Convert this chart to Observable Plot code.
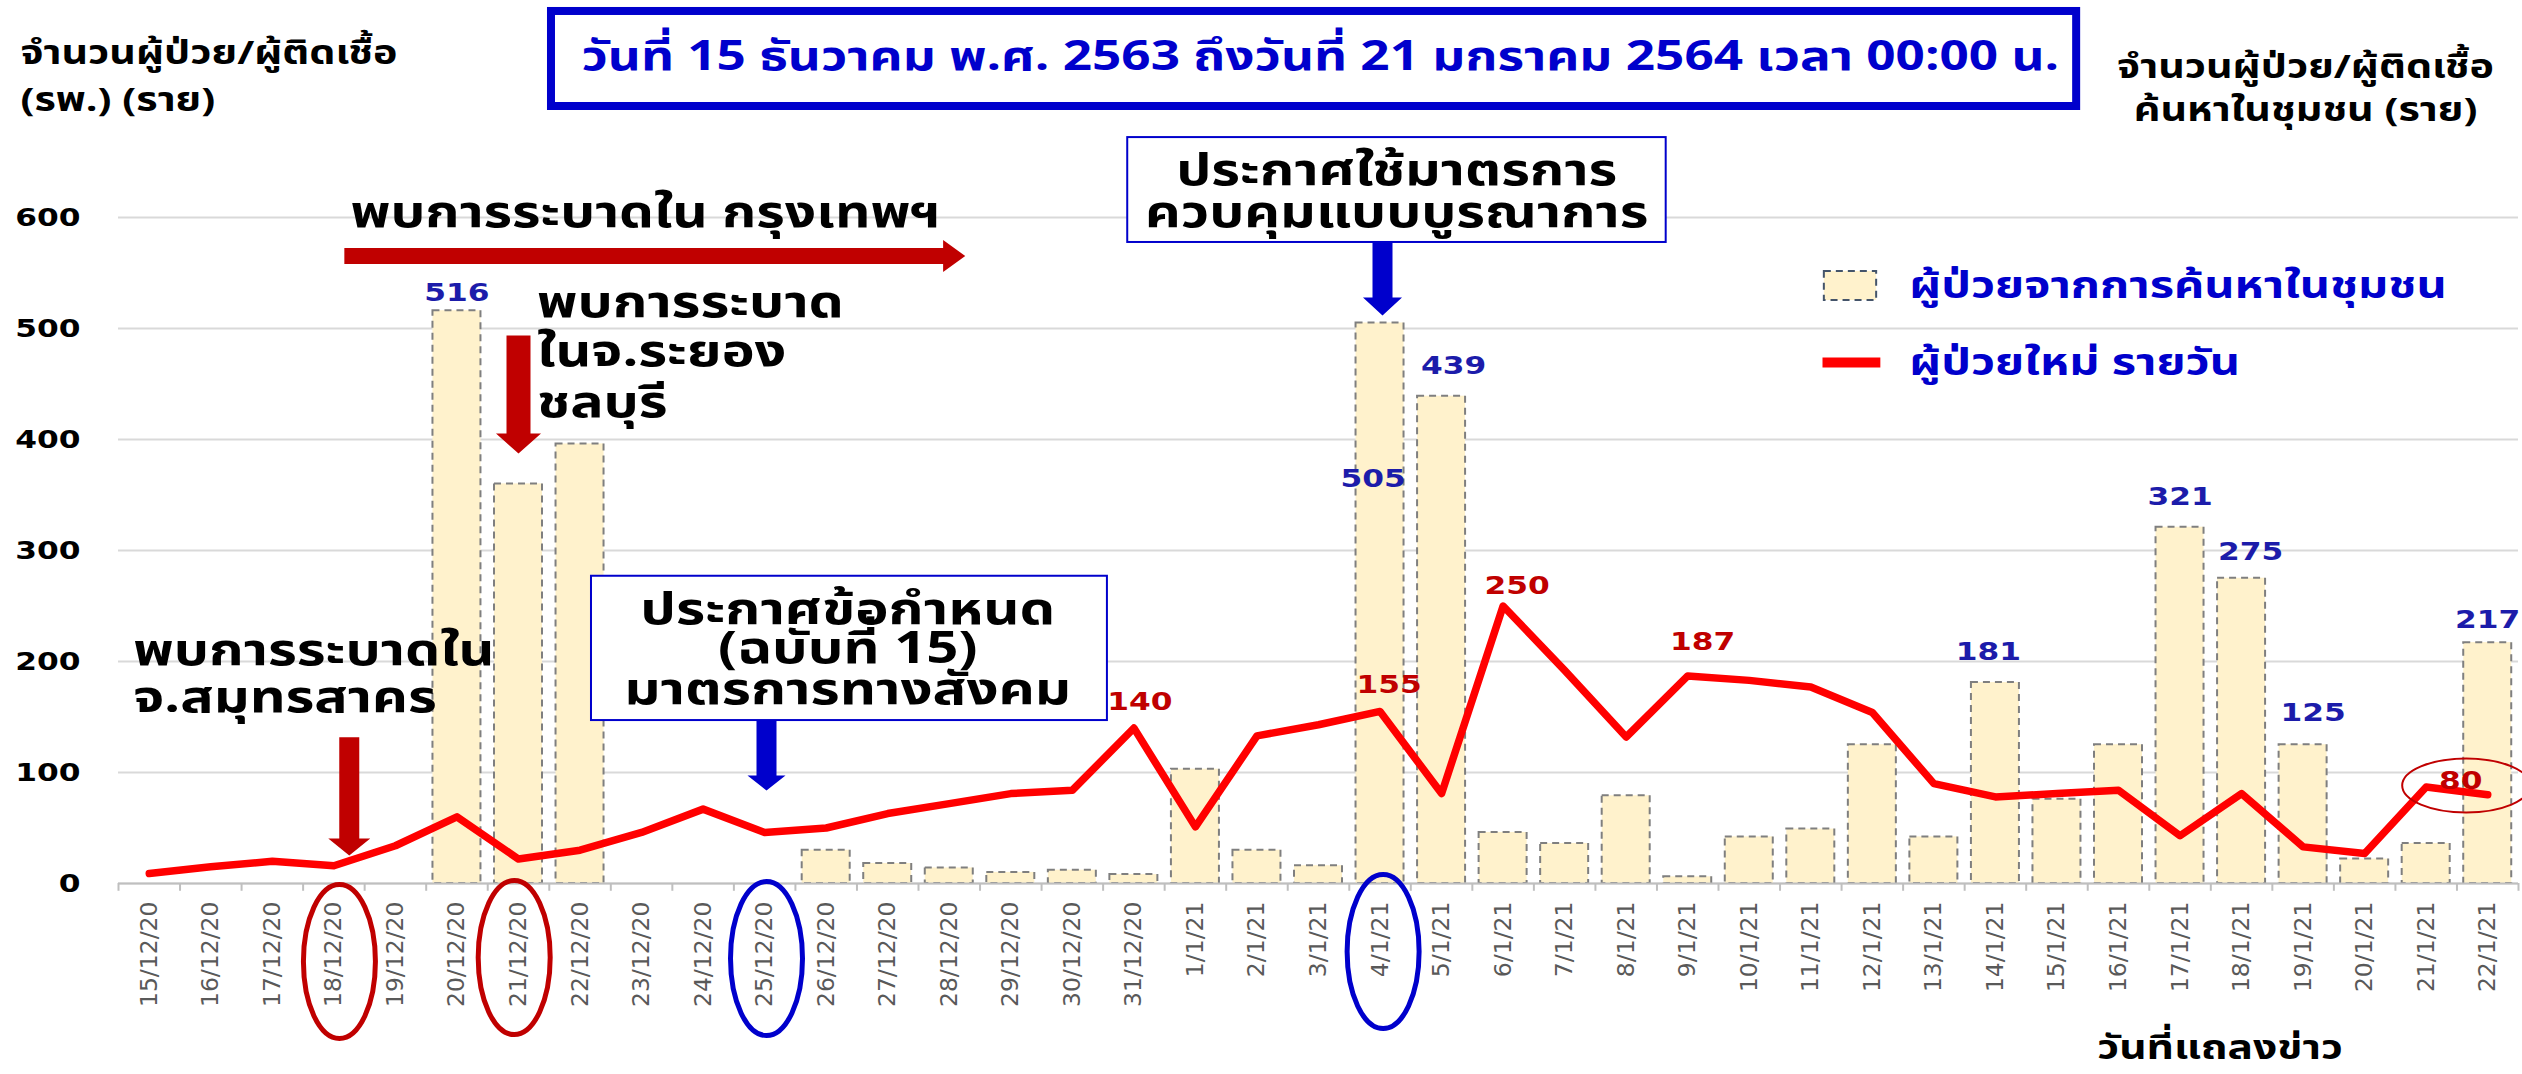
<!DOCTYPE html>
<html lang="th">
<head>
<meta charset="utf-8">
<script src="https://cdn.jsdelivr.net/npm/d3@7"></script>
<script src="https://cdn.jsdelivr.net/npm/@observablehq/plot@0.6"></script>
<style>
  html,body{margin:0;padding:0;background:#fff;}
  #chart{position:relative;width:2522px;height:1074px;overflow:hidden;}
</style>
</head>
<body>
<div id="chart"></div>
<script>
// ---------------- data ----------------
const dates = [
  "15/12/20","16/12/20","17/12/20","18/12/20","19/12/20","20/12/20","21/12/20","22/12/20","23/12/20",
  "24/12/20","25/12/20","26/12/20","27/12/20","28/12/20","29/12/20","30/12/20","31/12/20",
  "1/1/21","2/1/21","3/1/21","4/1/21","5/1/21","6/1/21","7/1/21","8/1/21","9/1/21","10/1/21",
  "11/1/21","12/1/21","13/1/21","14/1/21","15/1/21","16/1/21","17/1/21","18/1/21","19/1/21",
  "20/1/21","21/1/21","22/1/21"
];
// ผู้ป่วยจากการค้นหาในชุมชน (bars)
const communityCases = [0,0,0,0,0,516,360,396,0,0,0,30,18,14,10,12,8,
  103,30,16,505,439,46,36,79,6,42,49,125,42,181,76,125,321,275,125,22,36,217];
// ผู้ป่วยใหม่ รายวัน (line)
const dailyNewCases = [9,15,20,16,34,60,22,30,46,67,46,50,63,72,81,84,140,
  51,133,143,155,81,250,192,132,187,183,177,154,90,78,81,84,43,81,33,27,87,80];
const yTicks = [0,100,200,300,400,500,600];
const barLabelDates = ["20/12/20","4/1/21","5/1/21","14/1/21","17/1/21","18/1/21","19/1/21","22/1/21"];
const lineLabelDates = ["31/12/20","4/1/21","6/1/21","9/1/21","22/1/21"];

// ---------------- styles / layout ----------------
const FONT = "Tahoma, 'Noto Sans Thai', 'Noto Sans Thai UI', Loma, 'DejaVu Sans', sans-serif";
const NUMFONT = "'DejaVu Sans', sans-serif";
const SX = 1.25; // horizontal stretch of the original artwork
const RED = "#c00000", BLUE = "#0000cc";
const barLabelOffset = {"20/12/20":[0,-18],"4/1/21":[-7,156],"5/1/21":[12,-30],"14/1/21":[-7,-31],
  "17/1/21":[0,-30],"18/1/21":[9,-26],"19/1/21":[10,-32],"22/1/21":[0,-23]};
const lineLabelOffset = {"31/12/20":[6,-26],"4/1/21":[9,-26],"6/1/21":[14,-20],"9/1/21":[15,-34],"22/1/21":[-27,-14]};

const rows = dates.map((date, i) => ({i, date, community: communityCases[i], daily: dailyNewCases[i]}));
const byDate = new Map(rows.map(r => [r.date, r]));

// annotation geometry in data space (x = day index, y = cases)
function arrowRight(x0, x1, yc, hs, hh, hl) {
  return [[x0,yc+hs],[x1-hl,yc+hs],[x1-hl,yc+hh],[x1,yc],[x1-hl,yc-hh],[x1-hl,yc-hs],[x0,yc-hs]].map(([x,y])=>({x,y}));
}
function arrowDown(xc, y0, y1, hs, hh, hl) {
  return [[xc-hs,y0],[xc+hs,y0],[xc+hs,y1+hl],[xc+hh,y1+hl],[xc,y1],[xc-hh,y1+hl],[xc-hs,y1+hl]].map(([x,y])=>({x,y}));
}
function ellipseSymbol(rx, ry) {
  const k = 0.5523;
  return {draw(ctx) {
    ctx.moveTo(rx, 0);
    ctx.bezierCurveTo(rx, ry*k, rx*k, ry, 0, ry);
    ctx.bezierCurveTo(-rx*k, ry, -rx, ry*k, -rx, 0);
    ctx.bezierCurveTo(-rx, -ry*k, -rx*k, -ry, 0, -ry);
    ctx.bezierCurveTo(rx*k, -ry, rx, -ry*k, rx, 0);
    ctx.closePath();
  }};
}
const arrows = [
  {pts: arrowRight(3.17, 13.26, 565.3, 7.2, 14.4, 0.36), fill: RED},
  {pts: arrowDown(6.0, 493.7, 387.4, 0.195, 0.366, 18.0), fill: RED},
  {pts: arrowDown(3.25, 131.8, 25.2, 0.1625, 0.341, 15.3), fill: RED},
  {pts: arrowDown(10.03, 149.5, 83.8, 0.1625, 0.309, 13.5), fill: BLUE},
  {pts: arrowDown(20.04, 577.5, 511.7, 0.1625, 0.317, 16.3), fill: BLUE}
];
const bigEllipses = [
  {x: 3.09, y: -70.3, c: RED}, {x: 5.93, y: -66.7, c: RED},
  {x: 10.03, y: -67.6, c: BLUE}, {x: 20.05, y: -61.3, c: BLUE}
];
const boxes = [
  {x1: 15.90, x2: 24.65, y1: 577.5, y2: 672},
  {x1: 7.186, x2: 15.57, y1: 146.8, y2: 276.8}
];
const texts = [
  // title
  {t: "วันที่ 15 ธันวาคม พ.ศ. 2563 ถึงวันที่ 21 มกราคม 2564 เวลา 00:00 น.", x: 19.03, y: 745, a: "middle", s: 41, c: BLUE},
  // axis titles
  {t: "จำนวนผู้ป่วย/ผู้ติดเชื้อ", x: -2.093, y: 747.7, a: "start", s: 33, c: "#000"},
  {t: "(รพ.) (ราย)", x: -2.093, y: 705.4, a: "start", s: 33, c: "#000"},
  {t: "จำนวนผู้ป่วย/ผู้ติดเชื้อ", x: 35.04, y: 735, a: "middle", s: 33, c: "#000"},
  {t: "ค้นหาในชุมชน (ราย)", x: 35.04, y: 696.4, a: "middle", s: 33, c: "#000"},
  {t: "วันที่แถลงข่าว", x: 33.65, y: -148.6, a: "middle", s: 34, c: "#000"},
  // legend
  {t: "ผู้ป่วยจากการค้นหาในชุมชน", x: 28.60, y: 538.7, a: "start", s: 37.5, c: BLUE},
  {t: "ผู้ป่วยใหม่ รายวัน", x: 28.60, y: 468.5, a: "start", s: 37.5, c: BLUE},
  // annotations
  {t: "พบการระบาดใน กรุงเทพฯ", x: 3.27, y: 604.5, a: "start", s: 44, c: "#000"},
  {t: "พบการระบาด", x: 6.30, y: 523, a: "start", s: 44.5, c: "#000"},
  {t: "ในจ.ระยอง", x: 6.30, y: 479, a: "start", s: 44.5, c: "#000"},
  {t: "ชลบุรี", x: 6.30, y: 433, a: "start", s: 44.5, c: "#000"},
  {t: "พบการระบาดใน", x: -0.26, y: 210, a: "start", s: 44.5, c: "#000"},
  {t: "จ.สมุทรสาคร", x: -0.26, y: 167.6, a: "start", s: 44.5, c: "#000"},
  {t: "ประกาศข้อกำหนด", x: 11.35, y: 246.8, a: "middle", s: 45, c: "#000"},
  {t: "(ฉบับที่ 15)", x: 11.35, y: 211.7, a: "middle", s: 45, c: "#000"},
  {t: "มาตรการทางสังคม", x: 11.35, y: 174.8, a: "middle", s: 45, c: "#000"},
  {t: "ประกาศใช้มาตรการ", x: 20.27, y: 642, a: "middle", s: 44.3, c: "#000"},
  {t: "ควบคุมแบบบูรณาการ", x: 20.27, y: 604.5, a: "middle", s: 44.3, c: "#000"}
];

const marks = [
  Plot.gridY(yTicks, {stroke: "#d9d9d9", strokeOpacity: 1, strokeWidth: 2}),
  Plot.rect(rows.filter(d => d.community > 0), {
    x1: d => d.i - 0.39, x2: d => d.i + 0.39, y1: 0, y2: "community",
    fill: "#fff2cc", stroke: "#7f7f7f", strokeWidth: 2, strokeDasharray: "7,5"
  }),
  Plot.ruleY([0], {stroke: "#bfbfbf", strokeWidth: 2}),
  Plot.ruleX(d3.range(dates.length + 1).map(k => k - 0.5), {y1: 0, y2: -7, stroke: "#bfbfbf", strokeWidth: 2}),
  Plot.line(rows, {x: "i", y: "daily", stroke: "#ff0000", strokeWidth: 7.5, strokeLinejoin: "round"}),
  Plot.axisY({ticks: yTicks, tickSize: 0, tickPadding: 38, fontSize: 25, fontWeight: "bold", color: "#000", label: null, fontFamily: NUMFONT}),
  Plot.axisX({ticks: d3.range(dates.length), tickFormat: i => dates[i], tickRotate: -90, tickSize: 0, tickPadding: 18,
    fontSize: 23.5, color: "#595959", label: null, fontFamily: NUMFONT}),
  ...barLabelDates.map(dt => Plot.text([byDate.get(dt)], {x: "i", y: "community", text: d => String(d.community),
    dx: barLabelOffset[dt][0], dy: barLabelOffset[dt][1], fill: "#1c1caa", fontSize: 25, fontWeight: "bold", fontFamily: NUMFONT})),
  ...lineLabelDates.map(dt => Plot.text([byDate.get(dt)], {x: "i", y: "daily", text: d => String(d.daily),
    dx: lineLabelOffset[dt][0], dy: lineLabelOffset[dt][1], fill: RED, fontSize: 25, fontWeight: "bold", fontFamily: NUMFONT})),
  ...arrows.map(a => Plot.line(a.pts, {x: "x", y: "y", fill: a.fill, stroke: "none"})),
  ...boxes.map(b => Plot.rect([b], {x1: "x1", x2: "x2", y1: "y1", y2: "y2", fill: "white", stroke: BLUE, strokeWidth: 2})),
  Plot.rect([{x1: 6.536, x2: 31.32, y1: 700, y2: 785.6}], {x1: "x1", x2: "x2", y1: "y1", y2: "y2", fill: "none", stroke: BLUE, strokeWidth: 8}),
  Plot.rect([{x1: 27.22, x2: 28.07, y1: 525.2, y2: 551.4}], {x1: "x1", x2: "x2", y1: "y1", y2: "y2", fill: "#fff2cc", stroke: "#44546a", strokeWidth: 2, strokeDasharray: "7,5"}),
  Plot.line([{x: 27.19, y: 469.4}, {x: 28.13, y: 469.4}], {x: "x", y: "y", stroke: "#ff0000", strokeWidth: 10, strokeLinecap: "butt"}),
  ...bigEllipses.map(e => Plot.dot([e], {x: "x", y: "y", symbol: ellipseSymbol(36, 77), stroke: e.c, strokeWidth: 5, fill: "none"})),
  Plot.dot([{x: 37.65, y: 88.3}], {x: "x", y: "y", symbol: ellipseSymbol(64, 27), stroke: RED, strokeWidth: 2, fill: "none"}),
  ...texts.map(d => Plot.text([d], {x: "x", y: "y", text: "t", textAnchor: d.a, fontSize: d.s, fontWeight: "bold", fill: d.c, fontFamily: FONT}))
];

const chart = Plot.plot({
  width: 2522, height: 1074,
  marginLeft: 118, marginRight: 4, marginTop: 217, marginBottom: 191,
  x: {type: "linear", domain: [-0.5, dates.length - 0.5]},
  y: {type: "linear", domain: [0, 600]},
  style: {fontFamily: FONT, background: "white", overflow: "hidden"},
  marks
});
document.getElementById("chart").appendChild(chart);

// stretch all horizontal texts like the (horizontally stretched) original
chart.querySelectorAll("text").forEach(t => {
  if (t.closest('[aria-label="x-axis tick label"]')) return;
  const parts = t.querySelectorAll("tspan");
  (parts.length ? [...parts] : [t]).forEach(e => {
    const L = e.getComputedTextLength();
    if (L > 0) { e.setAttribute("textLength", L * SX); e.setAttribute("lengthAdjust", "spacingAndGlyphs"); }
  });
});
</script>
</body>
</html>
